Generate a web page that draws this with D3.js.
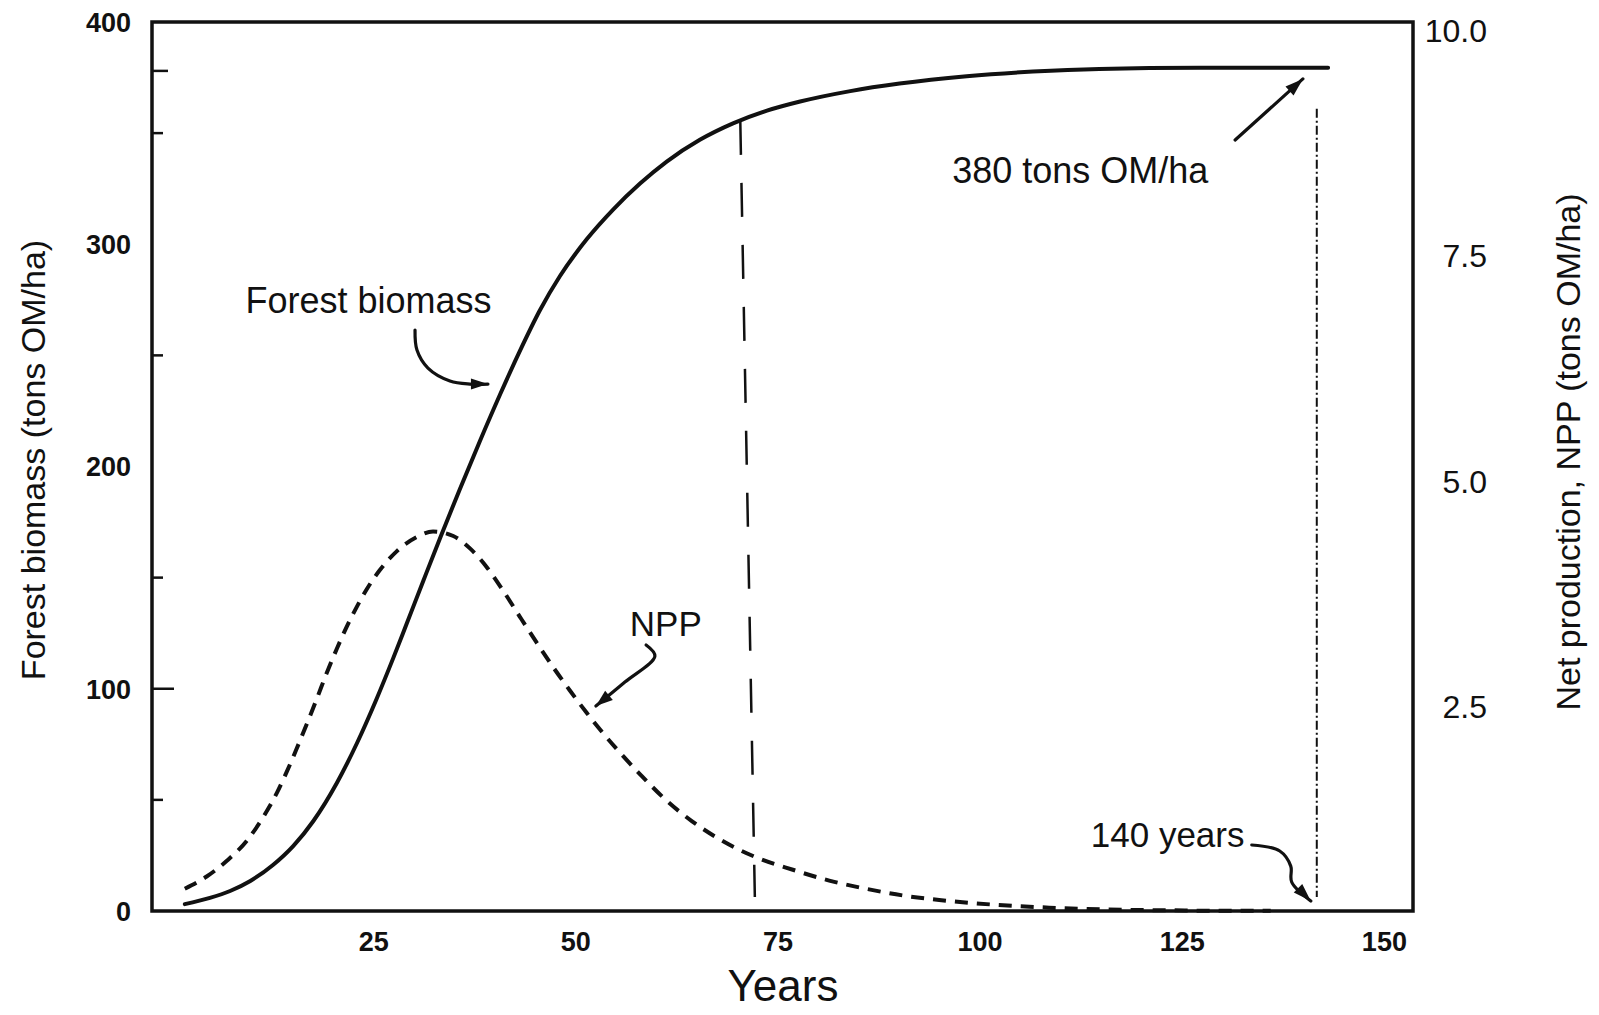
<!DOCTYPE html>
<html><head><meta charset="utf-8">
<script src="https://cdn.jsdelivr.net/npm/d3@7"></script>
<style>html,body{margin:0;padding:0;background:#fff;} svg{display:block;font-family:"Liberation Sans",Arial,Helvetica,sans-serif;}</style>
</head><body><svg id="chart" width="1599" height="1015"></svg>
<script>
// ---- data ----
const biomassYears = [1.7, 4.8, 7.3, 9.8, 12.6, 15.1, 17.6, 20.5, 23.0, 25.4, 27.5, 29.1, 31.2, 33.3, 35.7, 38.2, 40.7, 43.1, 45.6, 48.1, 51.4, 54.7, 58.0, 61.3, 65.4, 69.5, 73.7, 77.8, 84.0, 90.1, 98.4, 106.6, 114.8, 127.2, 143.1];
const biomass = [3.1, 5.9, 9.0, 13.5, 20.7, 29.2, 40.5, 57.6, 75.6, 95.3, 114.0, 128.9, 148.6, 168.1, 189.7, 211.5, 232.5, 251.7, 270.2, 285.7, 302.2, 315.7, 327.3, 337.2, 347.0, 354.4, 360.1, 364.2, 368.9, 372.3, 375.6, 377.7, 378.9, 379.4, 379.4];
const nppYears = [1.7, 4.4, 6.9, 9.4, 11.4, 13.1, 14.3, 15.5, 16.8, 18.0, 19.2, 20.5, 21.7, 23.0, 24.2, 25.8, 27.9, 30.4, 32.4, 34.9, 37.0, 39.0, 41.1, 43.1, 45.2, 47.3, 49.3, 51.4, 53.0, 55.3, 58.1, 61.0, 64.4, 67.8, 72.3, 76.9, 81.4, 85.9, 90.5, 95.0, 99.5, 104.1, 108.6, 115.4, 123.9, 130.0, 136.0];
const npp = [0.48, 0.615, 0.79, 1.015, 1.275, 1.545, 1.775, 2.025, 2.31, 2.58, 2.86, 3.14, 3.38, 3.61, 3.80, 4.01, 4.22, 4.38, 4.44, 4.39, 4.25, 4.05, 3.78, 3.50, 3.21, 2.93, 2.68, 2.43, 2.25, 2.01, 1.74, 1.48, 1.23, 1.03, 0.83, 0.69, 0.57, 0.48, 0.405, 0.355, 0.318, 0.29, 0.27, 0.25, 0.24, 0.235, 0.235];
const xTickValues = [25, 50, 75, 100, 125, 150];
const leftTickLabels = [0, 100, 200, 300, 400];
const leftMinorTicks = [50, 100, 150, 250, 350, 378];
const rightTickLabels = [2.5, 5.0, 7.5, 10.0];
// reference lines: [yearTop, valueTop, yearBottom, valueBottom] (left-axis units)
const dashedLine = [70.4, 355.5, 72.2, 6.3];
const dashDotLine = [141.7, 361, 141.7, 6.3];
// annotations (year, left-axis value)
const annotationTexts = ["Forest biomass", "NPP", "380 tons OM/ha", "140 years"];
const annotationAnchors = [[9.2, 269.1], [56.74, 123.6], [96.6, 327.6], [113.75, 28.8]];
const arrowBiomass = [[30.17, 261.4], [30.41, 252.4], [31.77, 244.3], [34.49, 238.5], [36.96, 237.1], [39.19, 237.1]];
const arrowNPP = [[58.75, 119.7], [59.84, 114.7], [56.13, 103.0], [52.54, 92.2]];
const arrow380 = [[131.6, 346.9], [139.98, 374.4]];
const arrow140 = [[133.66, 29.7], [137.12, 27.0], [138.48, 20.2], [138.6, 13.0], [140.96, 4.5]];

// ---- scales ----
const svg = d3.select("#chart");
const x = d3.scaleLinear().domain([-2.36, 153.6]).range([152, 1413]);
const yL = d3.scaleLinear().domain([0, 400]).range([911, 22]);
const yR = d3.scaleLinear().domain([0, 10]).range([932, 30]);
const ink = "#111";

// ---- frame ----
const [x0, x1] = x.range();
const [yb, yt] = yL.range();
svg.append("rect").attr("x", x0).attr("y", yt).attr("width", x1 - x0).attr("height", yb - yt)
  .attr("fill", "none").attr("stroke", ink).attr("stroke-width", 3.5);

// left minor ticks
svg.append("g").selectAll("line").data(leftMinorTicks).join("line")
  .attr("x1", x0).attr("x2", d => x0 + (d === 100 ? 22 : d === 378 ? 16 : 11))
  .attr("y1", d => yL(d)).attr("y2", d => yL(d))
  .attr("stroke", ink).attr("stroke-width", 2.5);

// ---- axes (labels only) ----
const gB = svg.append("g").attr("transform", `translate(0,${yb})`)
  .call(d3.axisBottom(x).tickValues(xTickValues).tickSize(0).tickFormat(d3.format("d")));
gB.select(".domain").remove();
gB.selectAll("text").attr("y", 31).attr("dy", "0.35em")
  .style("font-size", "27px").style("font-weight", "bold").attr("fill", ink);

const gL = svg.append("g").attr("transform", `translate(${x0},0)`)
  .call(d3.axisLeft(yL).tickValues(leftTickLabels).tickSize(0).tickPadding(21).tickFormat(d3.format("d")));
gL.select(".domain").remove();
gL.selectAll("text").attr("dy", "0.35em")
  .style("font-size", "27px").style("font-weight", "bold").attr("fill", ink);

const gR = svg.append("g").attr("transform", `translate(${x1},0)`)
  .call(d3.axisRight(yR).tickValues(rightTickLabels).tickSize(0).tickFormat(d3.format(".1f")));
gR.select(".domain").remove();
gR.selectAll("text").attr("x", 74).attr("dy", "0.35em").attr("text-anchor", "end")
  .style("font-size", "32px").attr("fill", ink);

// axis titles
svg.append("text").attr("x", 783).attr("y", 1001).attr("text-anchor", "middle")
  .style("font-size", "44px").attr("fill", ink).text("Years");
svg.append("text").attr("transform", "translate(45,460) rotate(-90)").attr("text-anchor", "middle")
  .style("font-size", "34px").attr("fill", ink).text("Forest biomass (tons OM/ha)");
svg.append("text").attr("transform", "translate(1580,452) rotate(-90)").attr("text-anchor", "middle")
  .style("font-size", "34px").attr("fill", ink).text("Net production, NPP (tons OM/ha)");

// ---- reference lines ----
svg.append("line").attr("x1", x(dashedLine[0])).attr("y1", yL(dashedLine[1]))
  .attr("x2", x(dashedLine[2])).attr("y2", yL(dashedLine[3]))
  .attr("stroke", ink).attr("stroke-width", 2.5).attr("stroke-dasharray", "34,28");
svg.append("line").attr("x1", x(dashDotLine[0])).attr("y1", yL(dashDotLine[1]))
  .attr("x2", x(dashDotLine[2])).attr("y2", yL(dashDotLine[3]))
  .attr("stroke", ink).attr("stroke-width", 2).attr("stroke-dasharray", "9,3,2,3");

// ---- series ----
const bioData = biomassYears.map((t, i) => [t, biomass[i]]);
const nppData = nppYears.map((t, i) => [t, npp[i]]);
svg.append("path").datum(bioData)
  .attr("d", d3.line().x(d => x(d[0])).y(d => yL(d[1])).curve(d3.curveMonotoneX))
  .attr("fill", "none").attr("stroke", ink).attr("stroke-width", 4).attr("stroke-linecap", "round");
svg.append("path").datum(nppData)
  .attr("d", d3.line().x(d => x(d[0])).y(d => yR(d[1])).curve(d3.curveMonotoneX))
  .attr("fill", "none").attr("stroke", ink).attr("stroke-width", 4).attr("stroke-dasharray", "13,9");

// ---- annotations ----
svg.append("g").selectAll("text").data(annotationTexts).join("text")
  .attr("x", (d, i) => x(annotationAnchors[i][0])).attr("y", (d, i) => yL(annotationAnchors[i][1]))
  .style("font-size", (d, i) => (i === 0 || i === 2) ? "36px" : "35px").attr("fill", ink).text(d => d);

function arrow(pts, len, wid) {
  const p = pts.map(d => [x(d[0]), yL(d[1])]);
  svg.append("path").attr("d", d3.line().curve(d3.curveCatmullRom)(p))
    .attr("fill", "none").attr("stroke", ink).attr("stroke-width", 3.2).attr("stroke-linecap", "round");
  const tip = p[p.length - 1], prev = p[p.length - 2];
  const dx = tip[0] - prev[0], dy = tip[1] - prev[1], L = Math.hypot(dx, dy);
  const ux = dx / L, uy = dy / L, px = -uy, py = ux;
  const bx = tip[0] - ux * len, by = tip[1] - uy * len;
  svg.append("path").attr("d", `M${tip[0]},${tip[1]}L${bx + px * wid / 2},${by + py * wid / 2}L${bx - px * wid / 2},${by - py * wid / 2}Z`)
    .attr("fill", ink);
}
arrow(arrowBiomass, 17, 11);
arrow(arrowNPP, 17, 12);
arrow(arrow380, 18, 12);
arrow(arrow140, 18, 12);
</script></body></html>
